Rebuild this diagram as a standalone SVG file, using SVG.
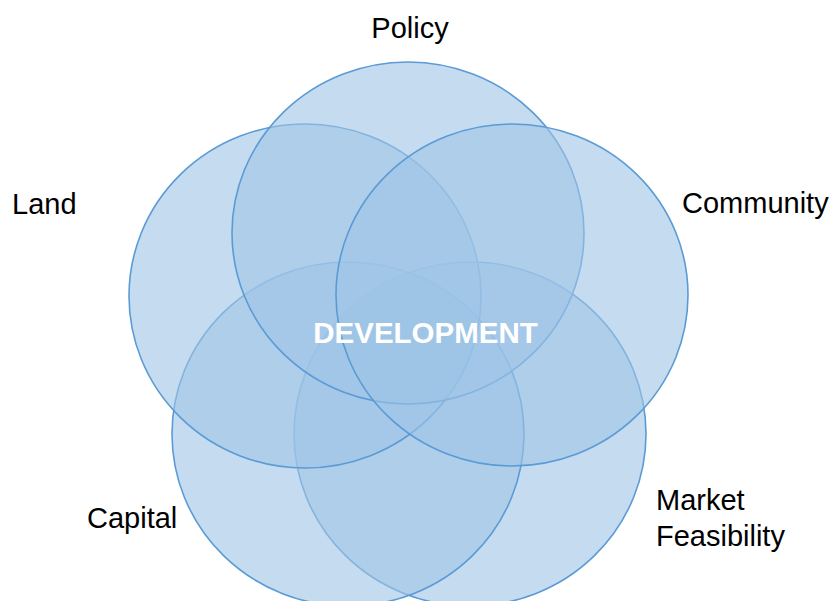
<svg xmlns="http://www.w3.org/2000/svg" width="833" height="601" viewBox="0 0 833 601">
<style>
.c{fill:#9EC5E6;fill-opacity:0.6;stroke:#5B9BD5;stroke-width:1.6}
.l{font-family:"Liberation Sans",Arial,sans-serif;font-size:29px;fill:#000}
.d{font-family:"Liberation Sans",Arial,sans-serif;font-size:29.5px;font-weight:bold;fill:#fff}
</style>
<rect width="833" height="601" fill="#fff"/>
<g id="market"><ellipse class="c" cx="470" cy="434" rx="176" ry="172"/></g>
<g id="capital"><ellipse class="c" cx="348" cy="434" rx="176" ry="172"/></g>
<g id="land"><ellipse class="c" cx="305" cy="296" rx="176" ry="172"/></g>
<g id="policy"><ellipse class="c" cx="408" cy="233" rx="176" ry="171"/></g>
<g id="community"><ellipse class="c" cx="512" cy="295" rx="176" ry="171"/></g>
<g id="connectors"></g>
<g id="labels">
<text class="l" x="410" y="38" text-anchor="middle">Policy</text>
<text class="l" x="12" y="214">Land</text>
<text class="l" x="682" y="213">Community</text>
<text class="l" x="87" y="528">Capital</text>
<text class="l" x="656" y="510">Market</text>
<text class="l" x="656" y="546">Feasibility</text>
<text class="d" x="425.5" y="343" text-anchor="middle">DEVELOPMENT</text>
</g>
</svg>
